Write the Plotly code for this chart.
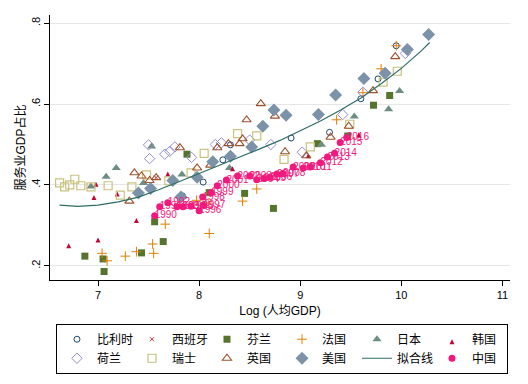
import plotly.graph_objects as go

# ---- data (x = Log 人均GDP, y = 服务业GDP占比) ----
bel_x = [7.835, 8.04, 8.235, 8.31, 8.91, 9.29, 9.60, 9.77, 9.95]
bel_y = [0.373, 0.407, 0.462, 0.499, 0.516, 0.530, 0.613, 0.662, 0.744]

esp_x = [7.575]
esp_y = [0.418]

fin_x = [6.87, 7.05, 7.06, 7.43, 7.56, 7.645, 7.88, 8.10, 8.45, 8.735, 9.17, 9.47, 9.725, 9.885]
fin_y = [0.224, 0.217, 0.186, 0.232, 0.309, 0.260, 0.476, 0.381, 0.379, 0.342, 0.502, 0.521, 0.597, 0.621]

fra_x = [7.04, 7.09, 7.27, 7.38, 7.54, 7.55, 7.665, 7.975, 8.09, 8.10, 8.43, 8.57, 9.36, 9.62, 9.80, 9.95]
fra_y = [0.231, 0.2125, 0.224, 0.235, 0.254, 0.231, 0.303, 0.362, 0.355, 0.280, 0.360, 0.390, 0.561, 0.628, 0.687, 0.744]

jpn_x = [6.93, 7.08, 7.18, 7.45, 7.53, 7.83, 8.30, 9.21, 9.535, 9.874, 9.983]
jpn_y = [0.396, 0.420, 0.442, 0.405, 0.495, 0.426, 0.442, 0.499, 0.569, 0.587, 0.632]

kor_x = [6.71, 6.96, 6.98, 7.00, 7.19, 7.38, 7.69, 8.33, 9.08, 9.58]
kor_y = [0.256, 0.375, 0.408, 0.270, 0.384, 0.318, 0.433, 0.446, 0.478, 0.530]

nld_x = [7.50, 7.51, 7.66, 7.71, 7.76, 7.925, 8.16, 8.22, 8.50, 8.71, 9.02, 9.42, 9.62, 10.04]
nld_y = [0.499, 0.465, 0.476, 0.483, 0.494, 0.468, 0.500, 0.504, 0.511, 0.500, 0.481, 0.574, 0.629, 0.725]

che_x = [6.62, 6.67, 6.72, 6.77, 6.83, 6.93, 7.10, 7.22, 7.335, 7.48, 7.70, 7.92, 8.05, 8.38, 8.57, 8.84, 9.10, 9.49, 9.82, 9.96]
che_y = [0.405, 0.395, 0.400, 0.414, 0.398, 0.395, 0.398, 0.375, 0.395, 0.425, 0.410, 0.430, 0.478, 0.527, 0.521, 0.463, 0.494, 0.550, 0.654, 0.681]

gbr_x = [7.31, 7.36, 7.43, 7.51, 7.575, 7.81, 7.98, 8.11, 8.18, 8.29, 8.40, 8.43, 8.47, 8.61, 8.75, 8.85, 9.06, 9.30, 9.48, 9.72, 9.94]
gbr_y = [0.360, 0.430, 0.422, 0.411, 0.418, 0.492, 0.442, 0.449, 0.492, 0.502, 0.502, 0.514, 0.561, 0.601, 0.570, 0.482, 0.472, 0.518, 0.545, 0.633, 0.717]

usa_x = [7.40, 7.52, 7.74, 7.82, 7.98, 8.135, 8.31, 8.52, 8.63, 8.74, 8.86, 9.18, 9.35, 9.63, 9.84, 10.06, 10.27]
usa_y = [0.380, 0.391, 0.411, 0.370, 0.419, 0.457, 0.471, 0.494, 0.545, 0.585, 0.572, 0.574, 0.622, 0.663, 0.676, 0.735, 0.772]

fit_x = [6.62, 6.8, 7.0, 7.2, 7.4, 7.6, 7.8, 8.0, 8.2, 8.4, 8.6, 8.8, 9.0, 9.2, 9.4, 9.6, 9.8, 10.0, 10.2, 10.28]
fit_y = [0.350, 0.347, 0.350, 0.358, 0.370, 0.388, 0.408, 0.428, 0.448, 0.468, 0.489, 0.510, 0.533, 0.558, 0.585, 0.615, 0.650, 0.688, 0.732, 0.752]

chn_year = [str(y) for y in range(1990, 2017)]
chn_x = [7.56, 7.61, 7.69, 7.78, 7.84, 7.92, 8.00, 8.04, 8.035, 8.12, 8.18, 8.27, 8.38, 8.50,
         8.57, 8.64, 8.70, 8.77, 8.83, 8.93, 9.03, 9.10, 9.20, 9.27, 9.34, 9.395, 9.46]
chn_y = [0.324, 0.346, 0.356, 0.346, 0.346, 0.347, 0.336, 0.350, 0.370, 0.381, 0.398, 0.412, 0.422, 0.422,
         0.413, 0.416, 0.419, 0.427, 0.428, 0.444, 0.442, 0.444, 0.455, 0.469, 0.478, 0.505, 0.517]

x_ticks = [7, 8, 9, 10, 11]
y_ticks = [0.2, 0.4, 0.6, 0.8]
y_ticktext = [".2", ".4", ".6", ".8"]

FONT = "Liberation Sans, Noto Sans CJK SC, sans-serif"
PINK = "#F0197D"

fig = go.Figure()

def mk(name, x, y, symbol, color, size, open_=False, lw=1):
    marker = dict(symbol=symbol, size=size, color=color)
    if open_:
        marker["line"] = dict(color=color, width=lw)
    fig.add_trace(go.Scatter(x=x, y=y, mode="markers", name=name, marker=marker))

mk("比利时", bel_x, bel_y, "circle-open", "#1a476f", 6, True, 1)
mk("西班牙", esp_x, esp_y, "x-thin-open", "#c0303a", 4, True, 1)
mk("芬兰", fin_x, fin_y, "square", "#55752f", 7)
mk("法国", fra_x, fra_y, "cross-thin-open", "#e37e00", 7, True, 1)
mk("日本", jpn_x, jpn_y, "triangle-up", "#6e8e84", 8)
mk("韩国", kor_x, kor_y, "arrow-bar-up", "#c10534", 5)
mk("荷兰", nld_x, nld_y, "diamond-open", "#938dd2", 8, True, 1)
mk("瑞士", che_x, che_y, "square-open", "#cac27e", 8, True, 1.2)
mk("英国", gbr_x, gbr_y, "triangle-up-open", "#a0522d", 8, True, 1.1)
mk("美国", usa_x, usa_y, "diamond", "#7b92a8", 10)
fig.add_trace(go.Scatter(x=fit_x, y=fit_y, mode="lines", name="拟合线",
                         line=dict(color="#2d6d66", width=1.2)))
fig.add_trace(go.Scatter(x=chn_x, y=chn_y, mode="markers", name="中国",
                         marker=dict(symbol="circle", size=7, color=PINK)))
fig.add_trace(go.Scatter(x=chn_x, y=chn_y, mode="text", text=chn_year, showlegend=False,
                         textposition="middle right",
                         textfont=dict(color=PINK, size=10, family=FONT)))

fig.update_layout(
    width=528, height=384,
    margin=dict(l=50, r=18, t=15, b=104, autoexpand=False),
    paper_bgcolor="white", plot_bgcolor="white",
    font=dict(family=FONT, size=11, color="black"),
    showlegend=True,
    legend=dict(orientation="h", x=0.013, y=-0.165, xanchor="left", yanchor="top",
                bgcolor="white", bordercolor="black", borderwidth=1,
                font=dict(size=12, family=FONT), entrywidth=30, itemwidth=30,
                tracegroupgap=0),
)
fig.update_xaxes(range=[6.525, 11.075], tickvals=x_ticks, ticks="outside", ticklen=5,
                 tickcolor="black", showline=True, linecolor="black", linewidth=1,
                 showgrid=False, zeroline=False, tickfont=dict(size=11), automargin=False,
                 title=dict(text="Log (人均GDP)", font=dict(size=12), standoff=6))
fig.update_yaxes(range=[0.165, 0.82], tickvals=y_ticks, ticktext=y_ticktext, ticks="outside",
                 ticklen=5, tickcolor="black", showline=True, linecolor="black", linewidth=1,
                 showgrid=True, gridcolor="#e6e6e6", gridwidth=1, zeroline=False,
                 tickangle=-90, tickfont=dict(size=11), automargin=False,
                 title=dict(text="服务业GDP占比", font=dict(size=12), standoff=1))

fig.write_html("out.html", config={"displayModeBar": False},
               post_script="document.body.style.margin='0';")
